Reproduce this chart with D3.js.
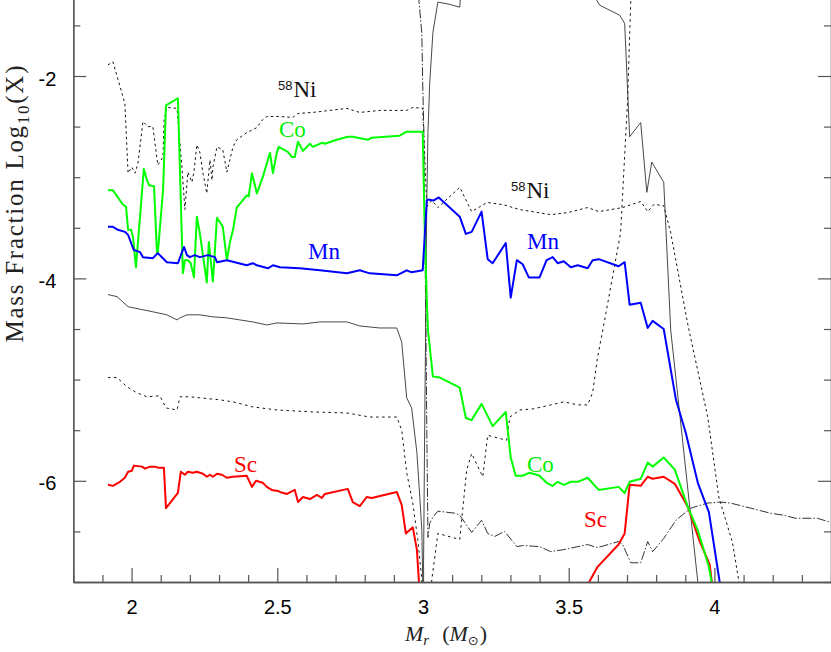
<!DOCTYPE html>
<html><head><meta charset="utf-8">
<script src="https://cdn.jsdelivr.net/npm/d3@7"></script>
<style>html,body{margin:0;padding:0;background:#fff;} svg{display:block}</style>
</head><body>
<svg id="c" width="831" height="652"></svg>
<script>
// ---- data (M_r in Msun, log10 mass fraction) ----
const co = [[1.919,-3.13],[1.936,-3.13],[1.953,-3.20],[1.970,-3.27],[1.981,-3.29],[1.988,-3.52],[1.998,-3.52],[2.005,-3.59],[2.015,-3.89],[2.042,-2.92],[2.053,-3.03],[2.060,-3.08],[2.077,-3.09],[2.087,-3.74],[2.090,-3.75],[2.108,-3.13],[2.118,-2.29],[2.159,-2.22],[2.176,-3.95],[2.183,-3.82],[2.193,-3.82],[2.203,-3.85],[2.214,-3.99],[2.224,-3.39],[2.234,-3.55],[2.258,-4.04],[2.265,-3.64],[2.279,-4.03],[2.293,-3.40],[2.313,-3.49],[2.327,-3.82],[2.337,-3.65],[2.348,-3.52],[2.361,-3.30],[2.395,-3.18],[2.402,-3.19],[2.413,-2.96],[2.430,-3.16],[2.450,-3.00],[2.475,-2.76],[2.485,-2.96],[2.499,-2.75],[2.505,-2.70],[2.536,-2.75],[2.550,-2.80],[2.560,-2.80],[2.571,-2.65],[2.588,-2.74],[2.612,-2.67],[2.622,-2.70],[2.653,-2.66],[2.663,-2.67],[2.704,-2.63],[2.742,-2.60],[2.759,-2.60],[2.811,-2.63],[2.824,-2.61],[2.920,-2.59],[2.944,-2.55],[2.961,-2.55],[2.979,-2.55],[2.999,-2.55],[3.006,-3.55],[3.013,-4.21],[3.017,-4.51],[3.034,-4.97],[3.058,-4.98],[3.126,-5.08],[3.147,-5.38],[3.167,-5.40],[3.201,-5.24],[3.239,-5.46],[3.284,-5.32],[3.301,-5.77],[3.318,-5.95],[3.342,-5.95],[3.366,-5.92],[3.400,-5.95],[3.424,-6.02],[3.445,-6.05],[3.462,-6.01],[3.483,-6.04],[3.507,-6.01],[3.531,-6.01],[3.565,-5.97],[3.603,-6.09],[3.671,-6.06],[3.692,-6.12],[3.709,-6.01],[3.747,-5.98],[3.771,-5.82],[3.788,-5.86],[3.826,-5.77],[3.864,-5.89],[3.909,-6.26],[3.943,-6.49],[3.981,-6.85],[3.995,-7.08]];

const mn = [[1.919,-3.49],[1.936,-3.49],[1.953,-3.52],[1.977,-3.54],[1.988,-3.57],[2.001,-3.67],[2.008,-3.72],[2.029,-3.74],[2.039,-3.79],[2.073,-3.80],[2.090,-3.75],[2.121,-3.84],[2.159,-3.85],[2.173,-3.74],[2.180,-3.69],[2.190,-3.77],[2.200,-3.79],[2.217,-3.77],[2.234,-3.79],[2.262,-3.77],[2.286,-3.79],[2.293,-3.84],[2.327,-3.82],[2.395,-3.87],[2.416,-3.85],[2.430,-3.87],[2.468,-3.90],[2.485,-3.87],[2.509,-3.89],[2.577,-3.90],[2.646,-3.92],[2.739,-3.95],[2.783,-3.92],[2.817,-3.95],[2.910,-3.97],[2.944,-3.92],[2.961,-3.94],[2.999,-3.92],[3.013,-3.23],[3.017,-3.22],[3.037,-3.23],[3.054,-3.20],[3.126,-3.39],[3.147,-3.56],[3.167,-3.54],[3.201,-3.34],[3.222,-3.81],[3.239,-3.85],[3.284,-3.65],[3.301,-4.19],[3.322,-3.82],[3.342,-3.86],[3.363,-3.99],[3.400,-3.99],[3.424,-3.82],[3.445,-3.79],[3.462,-3.85],[3.483,-3.83],[3.507,-3.89],[3.531,-3.87],[3.565,-3.90],[3.582,-3.82],[3.603,-3.81],[3.671,-3.88],[3.692,-3.84],[3.709,-4.26],[3.747,-4.24],[3.771,-4.49],[3.788,-4.42],[3.826,-4.50],[3.868,-5.20],[3.902,-5.53],[3.943,-6.02],[3.981,-6.31],[4.018,-7.00],[4.024,-7.13]];

const sc = [[1.919,-6.04],[1.936,-6.05],[1.960,-6.01],[1.977,-5.97],[1.988,-5.91],[2.001,-5.90],[2.008,-5.85],[2.036,-5.86],[2.046,-5.88],[2.063,-5.86],[2.080,-5.86],[2.090,-5.87],[2.111,-5.87],[2.118,-6.27],[2.159,-6.12],[2.169,-5.91],[2.183,-5.94],[2.193,-5.91],[2.210,-5.92],[2.224,-5.91],[2.245,-5.93],[2.258,-5.96],[2.269,-5.94],[2.279,-5.96],[2.293,-5.93],[2.310,-5.94],[2.327,-5.97],[2.348,-5.96],[2.395,-5.95],[2.413,-6.06],[2.427,-6.00],[2.450,-6.02],[2.464,-6.06],[2.481,-6.09],[2.502,-6.10],[2.509,-6.11],[2.533,-6.13],[2.560,-6.09],[2.571,-6.21],[2.588,-6.16],[2.612,-6.18],[2.636,-6.14],[2.653,-6.17],[2.663,-6.13],[2.742,-6.08],[2.759,-6.21],[2.783,-6.25],[2.807,-6.16],[2.824,-6.17],[2.910,-6.11],[2.927,-6.24],[2.941,-6.52],[2.965,-6.46],[2.979,-6.68],[2.989,-7.13],[3.2,null],[3.555,-7.08],[3.599,-6.85],[3.671,-6.63],[3.692,-6.52],[3.709,-6.04],[3.747,-6.05],[3.771,-5.96],[3.788,-5.98],[3.826,-5.96],[3.864,-6.03],[3.909,-6.26],[3.947,-6.58],[3.984,-6.83],[3.991,-7.00],[3.995,-7.13]];

const ni58 = [[1.919,-1.89],[1.936,-1.86],[1.977,-2.27],[1.988,-2.96],[2.001,-2.90],[2.012,-2.96],[2.022,-2.86],[2.039,-2.45],[2.056,-2.50],[2.073,-2.50],[2.090,-2.88],[2.108,-2.80],[2.111,-2.45],[2.121,-2.31],[2.156,-2.32],[2.173,-2.91],[2.183,-3.32],[2.193,-2.95],[2.207,-3.05],[2.214,-2.95],[2.224,-2.68],[2.234,-2.75],[2.245,-2.96],[2.258,-3.16],[2.269,-2.83],[2.276,-3.03],[2.279,-2.90],[2.293,-2.70],[2.313,-2.73],[2.327,-2.95],[2.348,-2.70],[2.361,-2.63],[2.395,-2.56],[2.416,-2.53],[2.430,-2.51],[2.450,-2.43],[2.464,-2.40],[2.492,-2.40],[2.509,-2.40],[2.553,-2.41],[2.571,-2.37],[2.622,-2.36],[2.739,-2.32],[2.783,-2.36],[2.852,-2.34],[2.944,-2.34],[2.965,-2.31],[2.999,-2.32],[3.013,-3.29],[3.030,-3.23],[3.051,-3.30],[3.126,-3.10],[3.167,-3.34],[3.219,-3.25],[3.273,-3.27],[3.332,-3.32],[3.438,-3.37],[3.496,-3.35],[3.565,-3.30],[3.603,-3.34],[3.685,-3.30],[3.747,-3.24],[3.771,-3.34],[3.792,-3.27],[3.826,-3.28],[3.850,-3.55],[3.909,-4.46],[3.977,-5.37],[4.015,-6.16],[4.062,-6.61],[4.083,-6.98],[4.089,-7.13]];

const dotLow = [[1.919,-4.98],[1.950,-4.98],[1.984,-5.07],[2.018,-5.13],[2.053,-5.17],[2.097,-5.16],[2.118,-5.28],[2.156,-5.30],[2.166,-5.17],[2.200,-5.17],[2.234,-5.18],[2.303,-5.20],[2.348,-5.22],[2.416,-5.27],[2.499,-5.30],[2.622,-5.32],[2.739,-5.33],[2.817,-5.37],[2.910,-5.37],[2.927,-5.50],[2.944,-5.92],[2.965,-6.22],[2.982,-6.58],[2.996,-6.98],[2.999,-7.13],[3.027,-7.13],[3.030,-6.98],[3.051,-6.52],[3.126,-6.58],[3.150,-5.89],[3.167,-5.73],[3.205,-5.96],[3.222,-5.55],[3.287,-5.60],[3.298,-5.37],[3.332,-5.30],[3.376,-5.29],[3.424,-5.26],[3.483,-5.22],[3.531,-5.25],[3.565,-5.25],[3.582,-5.13],[3.599,-4.78],[3.617,-4.51],[3.678,-3.55],[3.702,-2.24],[3.713,-1.25],[3.716,-1.15]];

const solidK = [[1.919,-4.16],[1.950,-4.18],[1.988,-4.28],[2.005,-4.29],[2.039,-4.31],[2.073,-4.33],[2.121,-4.36],[2.156,-4.41],[2.166,-4.39],[2.190,-4.36],[2.234,-4.36],[2.279,-4.38],[2.327,-4.39],[2.371,-4.41],[2.416,-4.43],[2.464,-4.46],[2.499,-4.44],[2.588,-4.45],[2.646,-4.43],[2.739,-4.43],[2.783,-4.47],[2.852,-4.49],[2.910,-4.49],[2.927,-4.63],[2.944,-5.18],[2.961,-5.28],[2.979,-5.72],[2.989,-6.16],[2.996,-6.49],[2.999,-6.98],[3.001,-7.13],[3.006,-5.40],[3.010,-4.21],[3.013,-3.23],[3.017,-2.56],[3.023,-2.07],[3.034,-1.57],[3.051,-1.27],[3.089,-1.29],[3.126,-1.32],[3.129,-1.20],[3.590,-1.20],[3.596,-1.25],[3.606,-1.30],[3.675,-1.40],[3.692,-1.48],[3.709,-2.60],[3.747,-2.46],[3.768,-3.15],[3.785,-2.85],[3.826,-3.05],[3.850,-4.51],[3.943,-7.00],[3.950,-7.13]];

const dashDot = [[2.982,-1.20],[2.986,-1.25],[2.996,-1.58],[2.999,-2.07],[3.003,-2.56],[3.006,-3.52],[3.010,-4.51],[3.013,-5.50],[3.017,-6.56],[3.023,-6.42],[3.034,-6.36],[3.051,-6.30],[3.109,-6.32],[3.126,-6.34],[3.167,-6.51],[3.201,-6.39],[3.222,-6.52],[3.246,-6.55],[3.280,-6.50],[3.322,-6.65],[3.342,-6.64],[3.400,-6.65],[3.438,-6.70],[3.483,-6.68],[3.565,-6.63],[3.599,-6.66],[3.671,-6.60],[3.685,-6.63],[3.713,-6.81],[3.747,-6.81],[3.771,-6.60],[3.788,-6.70],[3.826,-6.57],[3.868,-6.39],[3.919,-6.27],[3.977,-6.22],[4.021,-6.21],[4.055,-6.22],[4.124,-6.27],[4.192,-6.32],[4.237,-6.34],[4.278,-6.37],[4.353,-6.37],[4.398,-6.41]];

const xMajorTicks = [2, 2.5, 3, 3.5, 4];
const xTickLabels = ["2", "2.5", "3", "3.5", "4"];
const yMajorTicks = [-6, -4, -2];
const yTickLabels = ["-6", "-4", "-2"];

const curveLabels = [
  {text:"Co", color:"#00ee00", x:279, y:137},
  {text:"Mn", color:"#0000ff", x:308, y:259},
  {text:"Mn", color:"#0000ff", x:527, y:249},
  {text:"Co", color:"#00ee00", x:527, y:472},
  {text:"Sc", color:"#ff0000", x:234, y:472},
  {text:"Sc", color:"#ff0000", x:584, y:527}
];
const niLabels = [{x:278, y:97}, {x:511, y:198}];

// ---- drawing ----
const L = 73.3, R = 831, B = 582;
const x = d3.scaleLinear().domain([1.8, 4.4]).range([L, R]);
const y = d3.scaleLinear().domain([-7, -1]).range([B, B - 6 * 101.2]);
const svg = d3.select("#c");

svg.append("defs").append("clipPath").attr("id", "clip")
  .append("rect").attr("x", L).attr("y", -40).attr("width", R - L).attr("height", B + 40);

const line = d3.line().defined(d => d[1] !== null).x(d => x(d[0])).y(d => y(d[1]));
const plot = svg.append("g").attr("clip-path", "url(#clip)");

const series = [
  {data: dotLow, color: "#111", w: 1, dash: "2.5,3.5"},
  {data: ni58, color: "#111", w: 1, dash: "2.5,3"},
  {data: dashDot, color: "#333", w: 1, dash: "9,2,1.5,2"},
  {data: solidK, color: "#333", w: 0.9, dash: null},
  {data: sc, color: "#ff0000", w: 2, dash: null},
  {data: co, color: "#00ff00", w: 2, dash: null},
  {data: mn, color: "#0000ff", w: 2, dash: null}
];
series.forEach(s => {
  plot.append("path").datum(s.data).attr("d", line)
    .attr("fill", "none").attr("stroke", s.color).attr("stroke-width", s.w)
    .attr("stroke-dasharray", s.dash).attr("stroke-linejoin", "round");
});

// axes
const axisColor = "#555";
function styleAxis(g) {
  g.selectAll("path.domain").attr("stroke", axisColor).attr("stroke-width", 1.3);
  g.selectAll(".tick line").attr("stroke", axisColor).attr("stroke-width", 1.2);
}
const xMinor = d3.range(18, 45).map(v => v / 10).filter(v => !xMajorTicks.some(m => Math.abs(m - v) < 1e-6));
const yMinor = d3.range(-14, -1).map(v => v / 2).filter(v => !yMajorTicks.includes(v));

const gx = svg.append("g").attr("transform", `translate(0,${B})`);
gx.append("g").call(d3.axisBottom(x).tickValues(xMinor).tickSize(-7).tickSizeOuter(0).tickFormat("")).call(styleAxis);
gx.append("g").call(d3.axisBottom(x).tickValues(xMajorTicks).tickSize(-14).tickSizeOuter(0)
  .tickFormat((d, i) => xTickLabels[i])).call(styleAxis)
  .call(g => g.selectAll("text").attr("y", 32).attr("dy", null).attr("fill", "#000")
    .attr("font-family", "Liberation Sans, Arial, sans-serif").attr("font-size", 20));

const gy = svg.append("g").attr("transform", `translate(${L},0)`);
gy.append("g").call(d3.axisLeft(y).tickValues(yMinor).tickSize(-7).tickSizeOuter(0).tickFormat("")).call(styleAxis);
gy.append("g").call(d3.axisLeft(y).tickValues(yMajorTicks).tickSize(-13).tickSizeOuter(0)
  .tickFormat((d, i) => yTickLabels[i])).call(styleAxis)
  .call(g => g.selectAll("text").attr("x", -17).attr("dy", 9).attr("fill", "#000")
    .attr("font-family", "Liberation Sans, Arial, sans-serif").attr("font-size", 20));

const gr = svg.append("g").attr("transform", `translate(${R},0)`);
gr.append("g").call(d3.axisRight(y).tickValues(yMinor).tickSize(-7).tickSizeOuter(0).tickFormat("")).call(styleAxis);
gr.append("g").call(d3.axisRight(y).tickValues(yMajorTicks).tickSize(-13).tickSizeOuter(0).tickFormat("")).call(styleAxis);

// axis titles
const yt = svg.append("text").attr("transform", "translate(23,204) rotate(-90)")
  .attr("text-anchor", "middle").attr("font-family", "Liberation Serif, serif").attr("font-size", 25)
  .attr("fill", "#222").attr("textLength", 277).attr("lengthAdjust", "spacing");
yt.append("tspan").text("Mass Fraction Log");
yt.append("tspan").attr("dy", 6).attr("font-size", 17).text("10");
yt.append("tspan").attr("dy", -6).text("(X)");

const xt = svg.append("text").attr("x", 405).attr("y", 641)
  .attr("font-family", "Liberation Serif, serif").attr("font-size", 22).attr("fill", "#222");
xt.append("tspan").attr("font-style", "italic").text("M");
xt.append("tspan").attr("font-style", "italic").attr("font-size", 15).attr("dy", 4).text("r");
xt.append("tspan").attr("dy", -4).attr("dx", 13).text("(");
xt.append("tspan").attr("font-style", "italic").text("M");
xt.append("tspan").attr("font-size", 13).attr("dy", 4).attr("font-family", "DejaVu Sans, sans-serif").text("⊙");
xt.append("tspan").attr("dy", -4).attr("dx", 1).text(")");

// curve labels
curveLabels.forEach(c => {
  svg.append("text").attr("x", c.x).attr("y", c.y).attr("fill", c.color)
    .attr("font-family", "Liberation Serif, serif").attr("font-size", 23).text(c.text);
});
niLabels.forEach(n => {
  const t = svg.append("text").attr("x", n.x).attr("y", n.y).attr("fill", "#111");
  t.append("tspan").attr("font-family", "Liberation Sans, Arial, sans-serif").attr("font-size", 13).attr("dy", -7).text("58");
  t.append("tspan").attr("font-family", "Liberation Serif, serif").attr("font-size", 23).attr("dy", 7).attr("dx", 1).text("Ni");
});
</script>
</body></html>
